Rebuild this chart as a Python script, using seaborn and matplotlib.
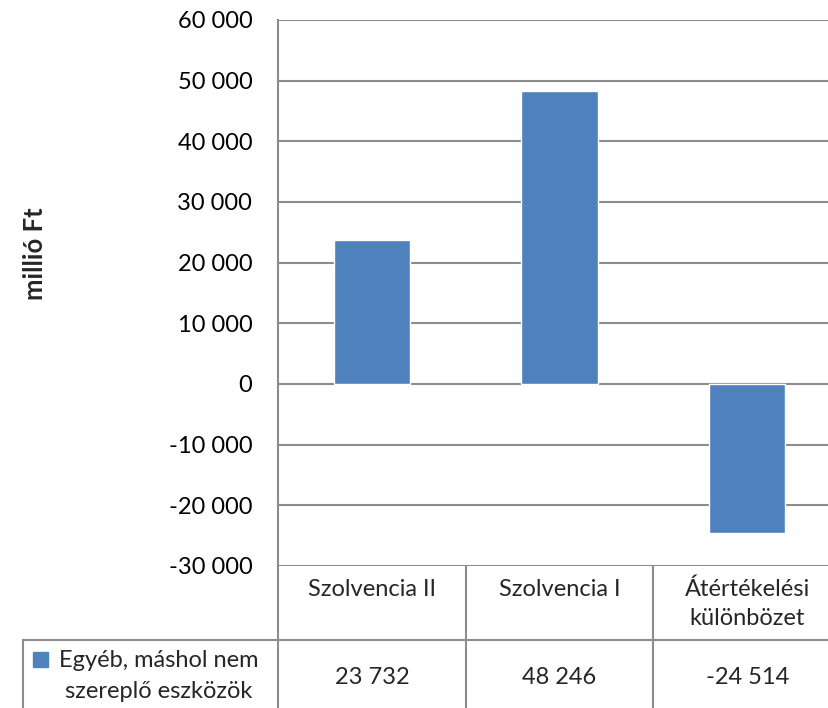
import matplotlib
matplotlib.use("Agg")
import matplotlib.pyplot as plt
import seaborn as sns
import pandas as pd
from matplotlib.patches import Rectangle
from matplotlib.lines import Line2D

categories = ["Szolvencia II", "Szolvencia I", "Átértékelési\nkülönbözet"]
values = [23732, 48246, -24514]
series_name = "Egyéb, máshol nem\nszereplő eszközök"
y_ticks = [-30000, -20000, -10000, 0, 10000, 20000, 30000, 40000, 50000, 60000]
y_label = "millió Ft"

BAR = "#4F81BD"
GRID = "#8C8C8C"
W, H = 829, 708
FS = 17
LW = 1.5

sns.set_theme(style="white")
plt.rcParams["font.family"] = ["Lato", "DejaVu Sans"]

def fmt(v):
    return f"{v:,}".replace(",", " ")

df = pd.DataFrame({"cat": categories, "val": values})

fig = plt.figure(figsize=(W / 100, H / 100), dpi=100)
fig.patch.set_facecolor("white")

def fx(px):
    return px / W

def fy(py):
    return 1 - py / H

def lines_text(x, first_baseline, text, step):
    # one text per line, so every first line sits on the same baseline
    for k, part in enumerate(text.split("\n")):
        fig.text(fx(x), fy(first_baseline + k * step), part, ha="center",
                 va="baseline", fontsize=FS)

# plot area (the last column runs past the right edge of the figure)
left, right, top, bottom = 278, 841, 20, 566
ax = fig.add_axes([fx(left), fy(bottom), fx(right - left), (bottom - top) / H])

sns.barplot(data=df, x="cat", y="val", color=BAR, width=0.405, saturation=1,
            ax=ax, zorder=3)
ax.set_xlim(-0.5, 2.5)
ax.set_ylim(-30000, 60000)
ax.set_yticks(y_ticks)
ax.set_yticklabels([fmt(t) for t in y_ticks], fontsize=FS, color="black")
ax.tick_params(axis="y", length=0, pad=18.5)
ax.set_xticks([])
ax.set_xlabel("")
ax.set_ylabel("")
for t in y_ticks:
    ax.axhline(t, color=GRID, lw=LW, zorder=1)
for s in ["top", "right", "bottom"]:
    ax.spines[s].set_visible(False)
ax.spines["left"].set_color(GRID)
ax.spines["left"].set_linewidth(LW)

fig.text(fx(35), fy(254), y_label, rotation=90, ha="center", va="center",
         fontsize=18.5, fontweight="bold")

# data table under the plot
col_w = (right - left) / 3
row_top = 640
lines = [
    ((left, left), (bottom, H)),
    ((left + col_w, left + col_w), (bottom, H)),
    ((left + 2 * col_w, left + 2 * col_w), (bottom, H)),
    ((23, W), (row_top, row_top)),
    ((23, 23), (row_top, H)),
]
for xs, ys in lines:
    fig.add_artist(Line2D([fx(x) for x in xs], [fy(y) for y in ys],
                          color=GRID, lw=LW))

for i, (c, v) in enumerate(zip(categories, values)):
    cx = left + col_w * (i + 0.5)
    lines_text(cx, 596, c, 29)
    fig.text(fx(cx), fy(684), fmt(v), ha="center", va="baseline", fontsize=FS)

fig.add_artist(Rectangle((fx(33), fy(667)), fx(15), 15 / H, color=BAR,
                         transform=fig.transFigure))
lines_text(159, 667, series_name, 31)

fig.savefig("out.png", dpi=100)
